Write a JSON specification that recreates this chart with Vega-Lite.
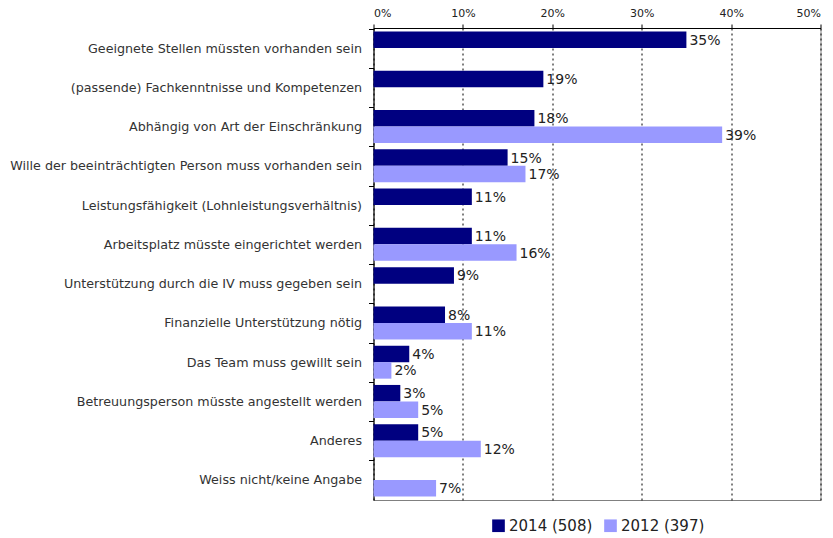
{
  "$schema": "https://vega.github.io/schema/vega-lite/v6.json",
  "width": 447,
  "height": 472,
  "autosize": {"type": "none"},
  "padding": {"left": 373.5, "top": 28, "right": 12.5, "bottom": 38},
  "config": {
    "font": "DejaVu Sans",
    "view": {"stroke": "#808080"},
    "axis": {"labelFont": "DejaVu Sans"}
  },
  "title": {
    "text": "Fallzahlen in Klammern",
    "orient": "bottom",
    "anchor": "start",
    "frame": "group",
    "fontSize": 10,
    "fontWeight": "normal",
    "color": "#222",
    "baseline": "top",
    "dx": -396,
    "offset": 30
  },
  "data": {
    "values": [
      {"item": "Geeignete Stellen müssten vorhanden sein", "series": "2014 (508)", "value": 0.35},
      {"item": "(passende) Fachkenntnisse und Kompetenzen", "series": "2014 (508)", "value": 0.19},
      {"item": "Abhängig von Art der Einschränkung", "series": "2014 (508)", "value": 0.18},
      {"item": "Abhängig von Art der Einschränkung", "series": "2012 (397)", "value": 0.39},
      {"item": "Wille der beeinträchtigten Person muss vorhanden sein", "series": "2014 (508)", "value": 0.15},
      {"item": "Wille der beeinträchtigten Person muss vorhanden sein", "series": "2012 (397)", "value": 0.17},
      {"item": "Leistungsfähigkeit (Lohnleistungsverhältnis)", "series": "2014 (508)", "value": 0.11},
      {"item": "Arbeitsplatz müsste eingerichtet werden", "series": "2014 (508)", "value": 0.11},
      {"item": "Arbeitsplatz müsste eingerichtet werden", "series": "2012 (397)", "value": 0.16},
      {"item": "Unterstützung durch die IV muss gegeben sein", "series": "2014 (508)", "value": 0.09},
      {"item": "Finanzielle Unterstützung nötig", "series": "2014 (508)", "value": 0.08},
      {"item": "Finanzielle Unterstützung nötig", "series": "2012 (397)", "value": 0.11},
      {"item": "Das Team muss gewillt sein", "series": "2014 (508)", "value": 0.04},
      {"item": "Das Team muss gewillt sein", "series": "2012 (397)", "value": 0.02},
      {"item": "Betreuungsperson müsste angestellt werden", "series": "2014 (508)", "value": 0.03},
      {"item": "Betreuungsperson müsste angestellt werden", "series": "2012 (397)", "value": 0.05},
      {"item": "Anderes", "series": "2014 (508)", "value": 0.05},
      {"item": "Anderes", "series": "2012 (397)", "value": 0.12},
      {"item": "Weiss nicht/keine Angabe", "series": "2012 (397)", "value": 0.07}
    ]
  },
  "encoding": {
    "y": {
      "field": "item",
      "type": "nominal",
      "sort": [
        "Geeignete Stellen müssten vorhanden sein",
        "(passende) Fachkenntnisse und Kompetenzen",
        "Abhängig von Art der Einschränkung",
        "Wille der beeinträchtigten Person muss vorhanden sein",
        "Leistungsfähigkeit (Lohnleistungsverhältnis)",
        "Arbeitsplatz müsste eingerichtet werden",
        "Unterstützung durch die IV muss gegeben sein",
        "Finanzielle Unterstützung nötig",
        "Das Team muss gewillt sein",
        "Betreuungsperson müsste angestellt werden",
        "Anderes",
        "Weiss nicht/keine Angabe"
      ],
      "scale": {"paddingInner": 0.16, "paddingOuter": 0.09},
      "axis": {
        "title": null,
        "ticks": true,
        "bandPosition": 0,
        "tickOffset": -3,
        "labelOffset": 3,
        "tickSize": 5,
        "tickWidth": 1,
        "tickOpacity": 1,
        "labelPadding": 7,
        "labelFontSize": 12.7,
        "labelColor": "#333",
        "domainColor": "#000",
        "tickColor": "#000",
        "labelLimit": 400,
        "grid": false
      }
    },
    "yOffset": {
      "field": "series",
      "type": "nominal",
      "sort": ["2014 (508)", "2012 (397)"],
      "scale": {"domain": ["2014 (508)", "2012 (397)"], "paddingInner": 0, "paddingOuter": 0}
    },
    "x": {
      "field": "value",
      "type": "quantitative",
      "scale": {"domain": [0, 0.5]},
      "axis": {
        "orient": "top",
        "format": ".0%",
        "values": [0, 0.1, 0.2, 0.3, 0.4, 0.5],
        "title": null,
        "grid": true,
        "gridDash": [2, 3],
        "gridColor": "#000",
        "gridWidth": 1,
        "gridOpacity": 1,
        "domainColor": "#000",
        "tickColor": "#000",
        "tickSize": 4,
        "labelFontSize": 11,
        "labelColor": "#222",
        "labelPadding": 6
      }
    }
  },
  "layer": [
    {
      "mark": {"type": "bar"},
      "encoding": {
        "color": {
          "field": "series",
          "type": "nominal",
          "scale": {"domain": ["2014 (508)", "2012 (397)"], "range": ["#000080", "#9999ff"]},
          "legend": {
            "orient": "none",
            "legendX": 117.5,
            "legendY": 490,
            "direction": "horizontal",
            "title": null,
            "symbolType": "square",
            "symbolSize": 160,
            "symbolStrokeWidth": 0,
            "labelFontSize": 15,
            "labelColor": "#222",
            "labelOffset": 3,
            "columnPadding": 10
          }
        }
      }
    },
    {
      "mark": {"type": "text", "align": "left", "baseline": "middle", "dx": 3, "dy": 1, "fontSize": 14, "color": "#222"},
      "encoding": {"text": {"field": "value", "type": "quantitative", "format": ".0%"}}
    }
  ]
}
